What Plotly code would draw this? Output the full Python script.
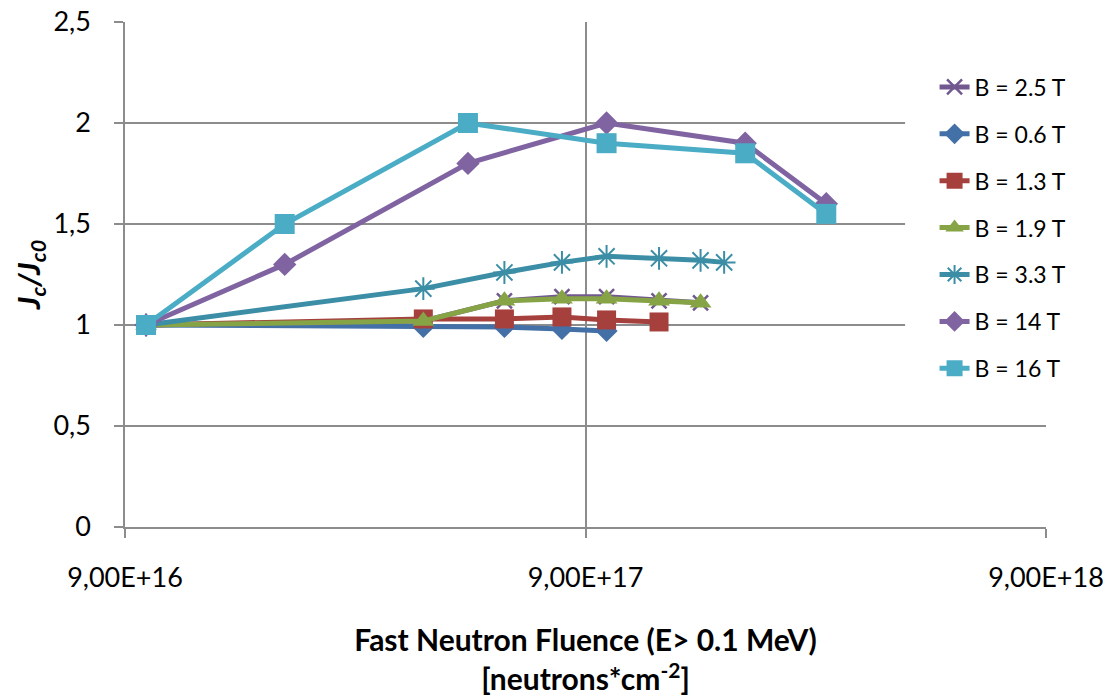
import plotly.graph_objects as go

# ---- data ----
fluence_25 = [1e17, 4e17, 6e17, 8e17, 1e18, 1.3e18, 1.6e18]
jc_25 = [1.0, 1.02, 1.12, 1.14, 1.14, 1.12, 1.11]

fluence_06 = [1e17, 4e17, 6e17, 8e17, 1e18]
jc_06 = [1.0, 0.99, 0.99, 0.98, 0.97]

fluence_13 = [1e17, 4e17, 6e17, 8e17, 1e18, 1.3e18]
jc_13 = [1.0, 1.03, 1.03, 1.04, 1.025, 1.015]

fluence_19 = [1e17, 4e17, 6e17, 8e17, 1e18, 1.3e18, 1.6e18]
jc_19 = [1.0, 1.02, 1.12, 1.13, 1.13, 1.12, 1.11]

fluence_33 = [1e17, 4e17, 6e17, 8e17, 1e18, 1.3e18, 1.6e18, 1.8e18]
jc_33 = [1.0, 1.18, 1.26, 1.31, 1.34, 1.33, 1.32, 1.31]

fluence_14 = [1e17, 2e17, 5e17, 1e18, 2e18, 3e18]
jc_14 = [1.0, 1.3, 1.8, 2.0, 1.9, 1.6]

fluence_16 = [1e17, 2e17, 5e17, 1e18, 2e18, 3e18]
jc_16 = [1.0, 1.5, 2.0, 1.9, 1.85, 1.55]

series_names = ["B = 2.5 T", "B = 0.6 T", "B = 1.3 T", "B = 1.9 T",
                "B = 3.3 T", "B = 14 T", "B = 16 T"]

y_ticks = [0, 0.5, 1, 1.5, 2, 2.5]
y_tick_labels = ["0", "0,5", "1", "1,5", "2", "2,5"]
x_ticks = [9e16, 9e17, 9e18]
x_tick_labels = ["9,00E+16", "9,00E+17", "9,00E+18"]

# ---- styles ----
styles = [
    dict(color="#71588F", symbol="x-thin-open", size=15, mline=2.5),
    dict(color="#4470A8", symbol="diamond", size=17, mline=0),
    dict(color="#A5403D", symbol="square", size=19, mline=0),
    dict(color="#86A345", symbol="triangle-up", size=19, mline=0),
    dict(color="#3B8EA5", symbol="asterisk-open", size=19, mline=2),
    dict(color="#8064A2", symbol="diamond", size=18, mline=0),
    dict(color="#4BACC6", symbol="square", size=20, mline=0),
]

xs = [fluence_25, fluence_06, fluence_13, fluence_19, fluence_33, fluence_14, fluence_16]
ys = [jc_25, jc_06, jc_13, jc_19, jc_33, jc_14, jc_16]

fig = go.Figure()
for i, (name, x, y, st) in enumerate(zip(series_names, xs, ys, styles)):
    fig.add_trace(go.Scatter(
        x=x, y=y, name=name, mode="lines+markers",
        legendgroup=f"g{i}",
        line=dict(color=st["color"], width=5),
        marker=dict(symbol=st["symbol"], size=st["size"], color=st["color"],
                    line=dict(color=st["color"], width=st["mline"])),
    ))

grid = "#8C8C8C"
fig.update_layout(
    width=1113, height=700,
    margin=dict(l=125, r=67, t=22, b=173),
    plot_bgcolor="white", paper_bgcolor="white",
    font=dict(family="Lato, 'Open Sans', sans-serif", size=27, color="black"),
    showlegend=True,
    legend=dict(x=0.879, xanchor="left", y=0.914, yanchor="top",
                bgcolor="rgba(0,0,0,0)", font=dict(size=23),
                tracegroupgap=14, itemwidth=30),
    xaxis=dict(
        type="log", range=[16.95424, 18.95424], automargin=False,
        tickvals=x_ticks, ticktext=x_tick_labels,
        showgrid=True, gridcolor=grid, gridwidth=1.5,
        showline=True, linecolor=grid, linewidth=1.5,
        ticks="outside", ticklen=9, tickcolor=grid, tickwidth=1.5,
        ticklabelstandoff=17, zeroline=False,
        title=dict(text="<b>Fast Neutron Fluence (E> 0.1 MeV)<br>[neutrons*cm<sup>-2</sup>]</b>",
                   font=dict(size=30), standoff=38),
    ),
    yaxis=dict(
        range=[0, 2.5], automargin=False,
        tickvals=y_ticks, ticktext=y_tick_labels,
        showgrid=True, gridcolor=grid, gridwidth=1.5,
        showline=True, linecolor=grid, linewidth=1.5,
        ticks="outside", ticklen=9, tickcolor=grid, tickwidth=1.5,
        ticklabelstandoff=18, zeroline=False,
        title=dict(text="<b><i>J<sub>c</sub>/J<sub>c0</sub></i></b>",
                   font=dict(size=31), standoff=4),
    ),
    shapes=[dict(type="rect", xref="paper", yref="paper",
                 x0=0.847, x1=1.06, y0=0.271, y1=0.925,
                 fillcolor="white", line=dict(width=0), layer="above")],
)

fig.write_html("out.html")
